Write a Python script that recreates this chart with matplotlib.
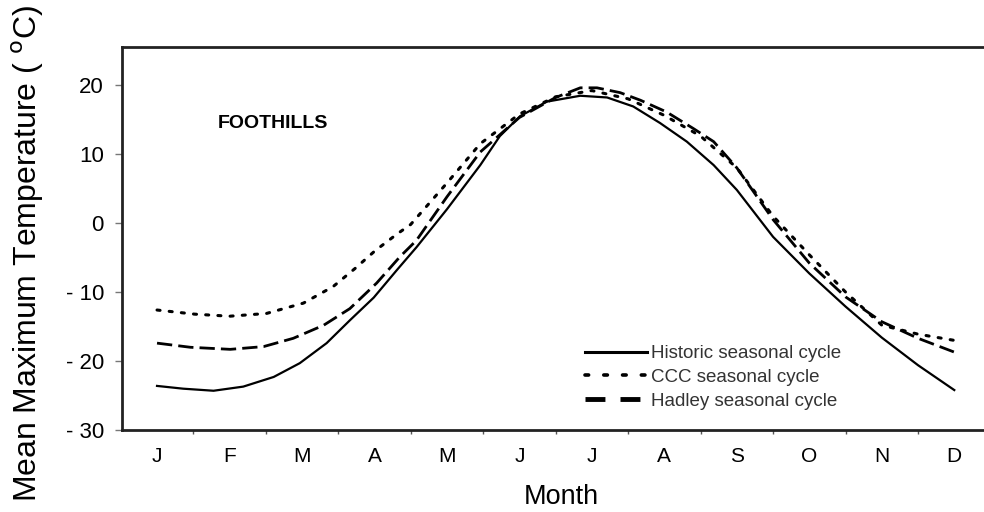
import matplotlib
matplotlib.use("Agg")
import matplotlib.pyplot as plt
from matplotlib.lines import Line2D

plt.rcParams['font.family'] = ['Liberation Sans', 'DejaVu Sans']

# Month position (0 = January ... 11 = December) and temperature (deg C)
hist_month = [0, 0.36, 0.78, 1.19, 1.61, 1.97, 2.34, 2.66, 2.99, 3.31, 3.58, 4.0, 4.46, 4.73,
              5.01, 5.38, 5.84, 6.21, 6.57, 6.94, 7.31, 7.68, 8.0, 8.5, 9.0, 9.5, 10.0, 10.5, 11.0]
hist_temp = [-23.6, -24.0, -24.3, -23.7, -22.3, -20.3, -17.4, -14.1, -10.8, -6.8, -3.5, 2.0, 8.4, 12.6,
             15.5, 17.6, 18.45, 18.2, 16.9, 14.5, 11.8, 8.4, 4.8, -2.0, -7.3, -12.1, -16.6, -20.6, -24.2]

ccc_month = [0, 0.52, 1.0, 1.51, 2.02, 2.43, 2.73, 3.01, 3.31, 3.5, 4.0, 4.46, 5.0, 5.5, 6.0,
             6.5, 7.0, 7.5, 8.0, 8.5, 9.0, 9.5, 10.0, 10.5, 11.0]
ccc_temp = [-12.6, -13.2, -13.5, -13.1, -11.6, -9.2, -6.6, -4.0, -1.6, -0.2, 5.8, 11.5, 15.8, 18.3, 19.2,
            18.0, 15.6, 12.6, 8.0, 1.0, -4.6, -10.0, -14.8, -16.1, -17.0]

hadley_month = [0, 0.46, 1.01, 1.47, 1.88, 2.30, 2.66, 3.03, 3.35, 3.58, 4.0, 4.46, 5.0, 5.5, 5.84,
                6.07, 6.39, 6.67, 7.03, 7.40, 7.68, 8.0, 8.5, 9.0, 9.5, 10.0, 10.5, 11.0]
hadley_temp = [-17.4, -18.0, -18.3, -17.9, -16.7, -14.8, -12.4, -8.7, -4.9, -2.5, 3.8, 10.3, 15.3, 18.2, 19.6,
               19.6, 18.9, 17.8, 16.1, 13.7, 11.8, 8.0, 0.5, -5.8, -10.7, -14.3, -16.7, -18.7]

month_labels = ['J', 'F', 'M', 'A', 'M', 'J', 'J', 'A', 'S', 'O', 'N', 'D']
ytick_vals = [-30, -20, -10, 0, 10, 20]
ytick_labels = ['- 30', '- 20', '- 10', '0', '10', '20']
series_names = ['Historic seasonal cycle', 'CCC seasonal cycle', 'Hadley seasonal cycle']

fig = plt.figure(figsize=(9.84, 5.12), dpi=100)
ax = fig.add_axes([0.124, 0.160, 0.876, 0.748])

ax.plot(hist_month, hist_temp, color='black', lw=1.6)
ax.plot(ccc_month, ccc_temp, color='black', lw=2.2, linestyle=(0, (1.0, 3.0)),
        dash_capstyle='round')
ax.plot(hadley_month, hadley_temp, color='black', lw=2.0, linestyle=(0, (5.5, 2.2)))

ax.set_xlim(-0.483, 11.41)
ax.set_ylim(-30, 25.5)

ax.set_yticks(ytick_vals)
ax.set_yticklabels(ytick_labels)
ax.set_xticks(range(12))
ax.set_xticklabels(month_labels)
ax.set_xticks([i + 0.5 for i in range(11)], minor=True)
ax.tick_params(axis='x', which='major', length=0, pad=12, labelsize=15)
ax.tick_params(axis='x', which='minor', length=3, width=1, color='#555555', direction='out')
ax.tick_params(axis='y', length=5, width=1, color='#777777', labelsize=16, pad=8)

for s in ['left', 'top', 'bottom']:
    ax.spines[s].set_linewidth(2)
    ax.spines[s].set_color('#222222')
ax.spines['right'].set_visible(False)

ax.set_xlabel('Month', fontsize=19.5)
ax.xaxis.set_label_coords(0.51, -0.14)
ax.set_ylabel('Mean Maximum Temperature ( $^{\\mathrm{o}}$C)', fontsize=23)
ax.yaxis.set_label_coords(-0.088, 0.462)

ax.text(0.84, 14.5, 'FOOTHILLS', fontsize=14, fontweight='bold', ha='left', va='center')

handles = [
    Line2D([], [], color='black', lw=2.2),
    Line2D([], [], color='black', lw=2.6, linestyle=(0, (1.0, 4.2)), dash_capstyle='round'),
    Line2D([], [], color='black', lw=3.5, linestyle=(0, (4.1, 3.1))),
]
leg = ax.legend(handles, series_names, loc='upper left', bbox_to_anchor=(0.537, 0.222),
                frameon=False, fontsize=13.5, handlelength=3.3, handletextpad=0.25,
                labelspacing=0.36, borderpad=0, borderaxespad=0)
for t in leg.get_texts():
    t.set_color('#333333')

fig.savefig('out.png', dpi=100)
